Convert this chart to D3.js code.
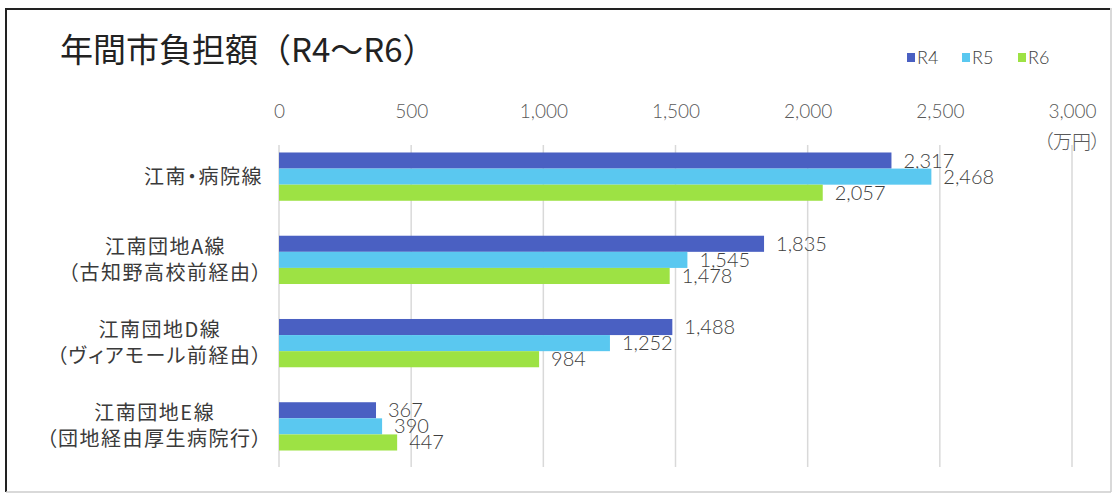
<!DOCTYPE html>
<html><head><meta charset="utf-8">
<script src="https://cdn.jsdelivr.net/npm/d3@7/dist/d3.min.js"></script>
<style>body{margin:0;background:#fff}svg{display:block}.palt{font-feature-settings:"palt" 1}</style>
</head><body><svg id="c" width="1115" height="495"></svg>
<script>
const categories = [
  ["江南・病院線"],
  ["江南団地A線", "（古知野高校前経由）"],
  ["江南団地D線", "（ヴィアモール前経由）"],
  ["江南団地E線", "（団地経由厚生病院行）"]
];
const seriesNames = ["R4", "R5", "R6"];
const r4 = [2317, 1835, 1488, 367];
const r5 = [2468, 1545, 1252, 390];
const r6 = [2057, 1478, 984, 447];
const tickValues = [0, 500, 1000, 1500, 2000, 2500, 3000];
const colors = ["#4A60C2", "#5AC8F0", "#9DE244"];
const seriesValues = [r4, r5, r6];

const svg = d3.select("#c");
const font = "'Noto Sans CJK JP','Liberation Sans',sans-serif";
const numFont = "Lato,'Liberation Sans',sans-serif";

// frame
svg.append("rect").attr("x",0).attr("y",0).attr("width",1115).attr("height",495).attr("fill","#fff");
svg.append("line").attr("x1",6).attr("x2",1110).attr("y1",9).attr("y2",9).attr("stroke","#222").attr("stroke-width",2);
svg.append("line").attr("x1",6).attr("x2",6).attr("y1",8).attr("y2",492).attr("stroke","#222").attr("stroke-width",2);
svg.append("line").attr("x1",6).attr("x2",1111).attr("y1",492).attr("y2",492).attr("stroke","#ccc").attr("stroke-width",1.5);
svg.append("line").attr("x1",1111).attr("x2",1111).attr("y1",8).attr("y2",492).attr("stroke","#ccc").attr("stroke-width",1.5);

const x = d3.scaleLinear().domain([0, 3000]).range([279, 1072]);
const y = d3.scaleBand().domain(d3.range(categories.length)).range([135, 468]).paddingInner(0.42).paddingOuter(0.21);
const ys = d3.scaleBand().domain(seriesNames).range([0, y.bandwidth()]);

// gridlines
svg.append("g").selectAll("line").data(tickValues).join("line")
  .attr("x1", d => x(d)).attr("x2", d => x(d))
  .attr("y1", 145).attr("y2", 467)
  .attr("stroke", "#d9d9d9").attr("stroke-width", 1.5);

// top axis tick labels
const axis = d3.axisTop(x).tickValues(tickValues).tickFormat(d3.format(",")).tickSize(0).tickPadding(0);
const ag = svg.append("g").attr("transform", "translate(0,118)").call(axis);
ag.select(".domain").remove();
ag.selectAll("text").attr("font-family", numFont).attr("font-weight", 300).attr("font-size", 19).attr("fill", "#595959");
svg.append("text").attr("class","palt").attr("x", x(3000)).attr("y", 149).attr("text-anchor", "middle")
  .attr("font-family", font).attr("font-size", 19).attr("fill", "#595959").attr("font-weight", 300).text("（万円）");

// bars
seriesNames.forEach((s, si) => {
  const g = svg.append("g");
  g.selectAll("rect").data(seriesValues[si]).join("rect")
    .attr("x", x(0)).attr("y", (d, i) => y(i) + ys(s))
    .attr("width", d => x(d) - x(0)).attr("height", ys.bandwidth())
    .attr("fill", colors[si]);
  g.selectAll("text").data(seriesValues[si]).join("text")
    .attr("x", d => x(d) + 12).attr("y", (d, i) => y(i) + ys(s) + ys.bandwidth() / 2 + 7)
    .attr("font-family", numFont).attr("font-weight", 300).attr("font-size", 20).attr("fill", "#404040")
    .text(d => d3.format(",")(d));
});

// category labels: block right-aligned, lines centred within block
const cg = svg.append("g");
categories.forEach((lines, i) => {
  const cy = y(i) + y.bandwidth() / 2;
  const t = cg.append("text").attr("class","palt").attr("font-family", font)
    .attr("font-size", 20).attr("fill", "#3a3a3a").attr("letter-spacing", 1.5);
  const spans = lines.map((ln, li) => {
    const off = (li - (lines.length - 1) / 2) * 26 + 7;
    return t.append("tspan").attr("y", cy + off).text(ln);
  });
  const widths = spans.map(sp => sp.node().getComputedTextLength());
  const maxW = d3.max(widths);
  spans.forEach(sp => sp.attr("x", 263 - maxW / 2).attr("text-anchor", "middle"));
});

// title
svg.append("text").attr("x", 60).attr("y", 62).attr("font-family", font).attr("font-size", 33)
  .attr("fill", "#222").text("年間市負担額（R4～R6）");

// legend
const legX = [907, 962, 1018];
seriesNames.forEach((s, i) => {
  svg.append("rect").attr("x", legX[i]).attr("y", 53).attr("width", 8).attr("height", 9).attr("fill", colors[i]);
  svg.append("text").attr("x", legX[i] + 10).attr("y", 64).attr("font-family", numFont).attr("font-weight", 300).attr("font-size", 18)
    .attr("fill", "#404040").text(s);
});
</script></body></html>
